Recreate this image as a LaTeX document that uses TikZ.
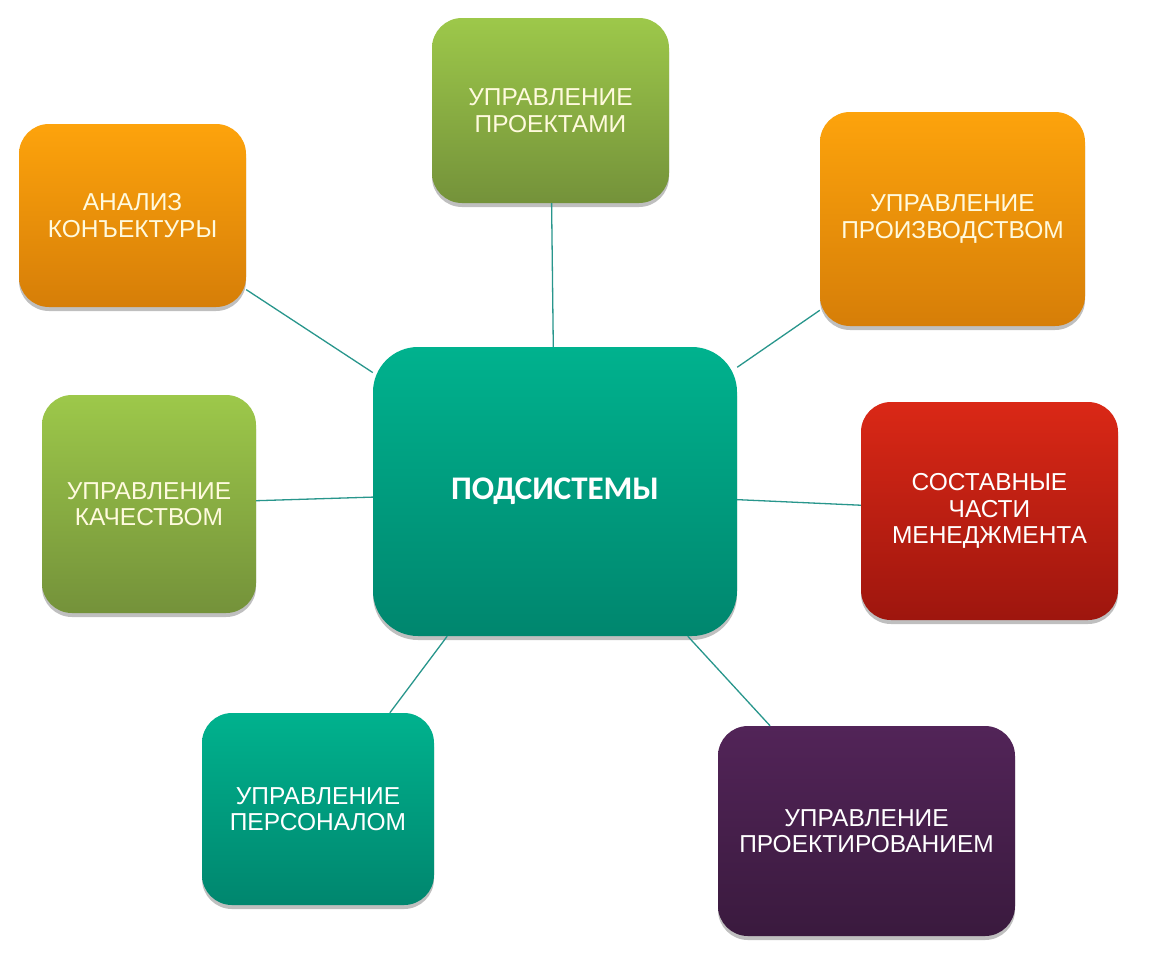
\documentclass[tikz,border=0pt]{standalone}
\usepackage{fontspec}
\setmainfont{Liberation Sans}
\newfontfamily\boldfam{Carlito}
\usetikzlibrary{shadows}
\definecolor{gtop}{RGB}{157,200,74}
\definecolor{gbot}{RGB}{116,146,58}
\definecolor{otop}{RGB}{253,163,12}
\definecolor{obot}{RGB}{214,126,8}
\definecolor{ttop}{RGB}{0,178,142}
\definecolor{tbot}{RGB}{0,134,110}
\definecolor{rtop}{RGB}{218,40,22}
\definecolor{rbot}{RGB}{158,22,14}
\definecolor{ptop}{RGB}{82,36,88}
\definecolor{pbot}{RGB}{58,26,62}
\definecolor{linkc}{RGB}{40,150,140}
\definecolor{cream}{RGB}{255,250,222}
\tikzset{
  boxbase/.style={rectangle, rounded corners=30pt, align=center, inner sep=0pt,
    font=\fontsize{24.5}{26.5}\selectfont,
    drop shadow={shadow xshift=0pt, shadow yshift=-4pt, opacity=0.25, fill=black}},
  greenbox/.style={boxbase, top color=gtop, bottom color=gbot, text=cream},
  orangebox/.style={boxbase, top color=otop, bottom color=obot, text=cream},
  tealbox/.style={boxbase, top color=ttop, bottom color=tbot, text=white},
  redbox/.style={boxbase, top color=rtop, bottom color=rbot, text=white},
  purplebox/.style={boxbase, top color=ptop, bottom color=pbot, text=white},
  link/.style={draw=linkc, line width=1.3pt}
}
\begin{document}
\begin{tikzpicture}[x=1pt,y=-1pt]
\useasboundingbox[fill=white] (0,0) rectangle (1162,962);
\node[tealbox, rounded corners=45pt, minimum width=364pt, minimum height=289pt,
  font=\boldfam\bfseries\fontsize{33}{36}\selectfont] (center) at (555,491.5) {ПОДСИСТЕМЫ};
\node[greenbox, minimum width=237pt, minimum height=185pt] (proj) at (550.5,110.5) {УПРАВЛЕНИЕ\\ПРОЕКТАМИ};
\node[orangebox, minimum width=265pt, minimum height=214pt] (prod) at (952.5,219) {УПРАВЛЕНИЕ\\ПРОИЗВОДСТВОМ};
\node[orangebox, minimum width=227pt, minimum height=183pt] (anal) at (132.5,215.5) {АНАЛИЗ\\КОНЪЕКТУРЫ};
\node[greenbox, minimum width=214pt, minimum height=218pt] (qual) at (149,504) {УПРАВЛЕНИЕ\\КАЧЕСТВОМ};
\node[redbox, minimum width=257pt, minimum height=218pt] (sost) at (989.5,511) {СОСТАВНЫЕ\\ЧАСТИ\\МЕНЕДЖМЕНТА};
\node[tealbox, minimum width=232pt, minimum height=192pt] (pers) at (318,809) {УПРАВЛЕНИЕ\\ПЕРСОНАЛОМ};
\node[purplebox, minimum width=297pt, minimum height=210pt] (projr) at (866.5,831) {УПРАВЛЕНИЕ\\ПРОЕКТИРОВАНИЕМ};
\draw[link] (proj) -- (center);
\draw[link] (prod) -- (center);
\draw[link] (anal) -- (center);
\draw[link] (qual) -- (center);
\draw[link] (sost) -- (center);
\draw[link] (pers) -- (center);
\draw[link] (projr) -- (center);
\end{tikzpicture}
\end{document}
